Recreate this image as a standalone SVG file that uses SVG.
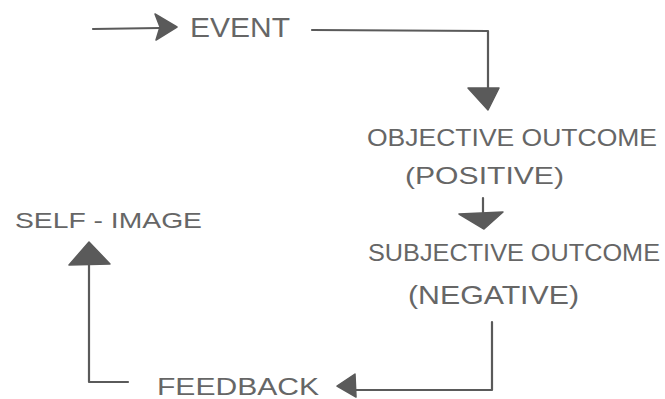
<svg xmlns="http://www.w3.org/2000/svg" width="665" height="399" viewBox="0 0 665 399">
  <style>
    .lbl { font-family: "Liberation Sans", Arial, sans-serif; fill: #666; }
    .ln { fill: none; stroke: #5a5a5a; stroke-width: 2.2; stroke-linecap: round; stroke-linejoin: round; }
    .hd { fill: #5a5a5a; stroke: #5a5a5a; stroke-width: 1.5; stroke-linejoin: round; }
  </style>
  <rect width="665" height="399" fill="#ffffff"/>
  <g id="connectors">
    <line class="ln" x1="93" y1="29" x2="160" y2="28"/>
    <polygon class="hd" points="155,14 177,27 156,40 160,27"/>
    <polyline class="ln" points="312,30 488,31 488,92"/>
    <polygon class="hd" points="468,88 499,88 488,110"/>
    <line class="ln" x1="483" y1="198" x2="483" y2="214"/>
    <polygon class="hd" points="459,214 503,212 484,229"/>
    <polyline class="ln" points="492,322 492,390 352,390"/>
    <polygon class="hd" points="355,374 337,386 356,397"/>
    <polyline class="ln" points="128,382 89,382 89,260"/>
    <polygon class="hd" points="89,242 69,265 110,264"/>
  </g>
  <g id="event">
    <text class="lbl" x="190" y="37" font-size="27" textLength="100" lengthAdjust="spacingAndGlyphs">EVENT</text>
  </g>
  <g id="objective">
    <text class="lbl" x="367" y="146" font-size="23" textLength="290" lengthAdjust="spacingAndGlyphs">OBJECTIVE OUTCOME</text>
    <text class="lbl" x="405" y="184" font-size="24" textLength="159" lengthAdjust="spacingAndGlyphs">(POSITIVE)</text>
  </g>
  <g id="subjective">
    <text class="lbl" x="368" y="261" font-size="23" textLength="292" lengthAdjust="spacingAndGlyphs">SUBJECTIVE OUTCOME</text>
    <text class="lbl" x="408" y="304" font-size="25" textLength="171" lengthAdjust="spacingAndGlyphs">(NEGATIVE)</text>
  </g>
  <g id="feedback">
    <text class="lbl" x="157" y="395" font-size="23" textLength="162" lengthAdjust="spacingAndGlyphs">FEEDBACK</text>
  </g>
  <g id="selfimage">
    <text class="lbl" x="15" y="228" font-size="22" textLength="187" lengthAdjust="spacingAndGlyphs">SELF - IMAGE</text>
  </g>
</svg>
